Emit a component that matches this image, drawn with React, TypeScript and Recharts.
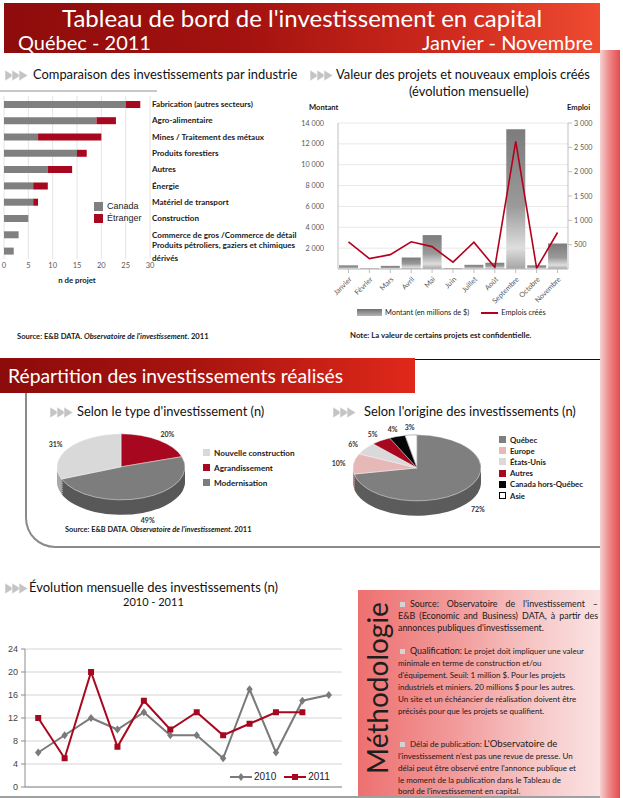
import React from 'react';
import {
  BarChart,
  Bar,
  XAxis,
  YAxis,
  CartesianGrid,
  Legend,
  ComposedChart,
  Line,
  LineChart,
  PieChart,
  Pie,
  Cell,
} from 'recharts';

const FONT = 'Lato, "Open Sans", sans-serif';

// --- Comparaison des investissements par industrie
const industries = [
  'Fabrication (autres secteurs)',
  'Agro-alimentaire',
  'Mines / Traitement des métaux',
  'Produits forestiers',
  'Autres',
  'Énergie',
  'Matériel de transport',
  'Construction',
  'Commerce de gros /Commerce de détail',
  'Produits pétroliers, gaziers et chimiques dérivés',
];
const canadaProjects = [25, 19, 7, 15, 9, 6, 6, 5, 3, 2];
const foreignProjects = [3, 4, 13, 2, 5, 3, 1, 0, 0, 0];
const projectTicks = [0, 5, 10, 15, 20, 25, 30];

// --- Valeur des projets et emplois
const months = ['Janvier', 'Février', 'Mars', 'Avril', 'Mai', 'Juin', 'Juillet', 'Août', 'Septembre', 'Octobre', 'Novembre'];
const amountMillions = [350, 50, 300, 1100, 3250, 80, 400, 600, 13400, 350, 2450];
const jobsCreated = [555, 215, 295, 560, 460, 140, 550, 35, 2620, 15, 750];
const amountTicks = [2000, 4000, 6000, 8000, 10000, 12000, 14000];
const jobTicks = [500, 1000, 1500, 2000, 2500, 3000];

// --- Répartition
const typeNames = ['Agrandissement', 'Modernisation', 'Nouvelle construction'];
const typeShares = [20, 49, 31];
const typeLegend = ['Nouvelle construction', 'Agrandissement', 'Modernisation'];

const originNames = ['Québec', 'Europe', 'États-Unis', 'Autres', 'Canada hors-Québec', 'Asie'];
const originShares = [72, 10, 6, 5, 4, 3];

// --- Évolution mensuelle
const counts2010 = [6, 9, 12, 10, 13, 9, 9, 5, 17, 6, 15, 16];
const counts2011 = [12, 5, 20, 7, 15, 10, 13, 9, 11, 13, 13];
const monthBounds = [0, 1, 2, 3, 4, 5, 6, 7, 8, 9, 10, 11, 12];
const countTicks = [0, 4, 8, 12, 16, 20, 24];

const TOP_COLORS: Record<string, string> = {
  Agrandissement: '#a8081f',
  Modernisation: '#7d7d7d',
  'Nouvelle construction': '#d9d9d9',
  Québec: '#7f7f7f',
  Europe: '#e6b9b8',
  'États-Unis': '#d9d9d9',
  Autres: '#a8081f',
  'Canada hors-Québec': '#050505',
  Asie: '#ffffff',
};
const SIDE_COLORS: Record<string, string> = {
  Agrandissement: '#6e0012',
  Modernisation: '#585858',
  'Nouvelle construction': '#a9a9a9',
  Québec: '#5c5c5c',
  Europe: '#b98c8b',
  'États-Unis': '#a8a8a8',
  Autres: '#6e0012',
  'Canada hors-Québec': '#000000',
  Asie: '#d8d8d8',
};

const fmt = (v: number) => String(v).replace(/\B(?=(\d{3})+(?!\d))/g, ' ');

const industryRows = industries.map((name, i) => ({ name, canada: canadaProjects[i], etranger: foreignProjects[i] }));
const valueRows = months.map((month, i) => ({ month, amount: amountMillions[i], jobs: jobsCreated[i] }));
const countRows = counts2010.map((v, i) => ({ pos: i + 0.5, y2010: v, y2011: counts2011[i] ?? null }));

const Arrows = ({ left, top }: { left: number; top: number }) => (
  <svg style={{ position: 'absolute', left, top }} width={24} height={11}>
    {[0, 7, 14].map((dx) => (
      <polygon key={dx} points={`${dx},0 ${dx + 9},5.5 ${dx},11`} fill="#c4c4c4" stroke="#fff" strokeWidth={0.6} />
    ))}
  </svg>
);

const Txt = ({ x, cy, size, children, style }: any) => (
  <div
    style={{
      position: 'absolute',
      left: x,
      top: cy - size * 0.6,
      fontSize: size,
      lineHeight: 1.2,
      whiteSpace: 'nowrap',
      fontFamily: FONT,
      ...style,
    }}
  >
    {children}
  </div>
);

const IndustryTick = (props: any) => {
  const { x, y, payload } = props;
  const words = String(payload.value).split(' ');
  const lines: string[] = [];
  let cur = '';
  for (const w of words) {
    const next = (cur + ' ' + w).trim();
    if (next.length > 41) {
      lines.push(cur);
      cur = w;
    } else cur = next;
  }
  lines.push(cur);
  const y0 = y - (lines.length - 1) * 5.5;
  return (
    <text x={x} y={y0} textAnchor="start" dominantBaseline="central" fontSize={8.1} fontWeight={700} fill="#1a1a1a" fontFamily={FONT}>
      {lines.map((l, i) => (
        <tspan key={i} x={x} dy={i === 0 ? 0 : 12.5}>
          {l}
        </tspan>
      ))}
    </text>
  );
};

const MonthTick = ({ x, y, payload }: any) => (
  <text x={x + 2} y={y + 3} transform={`rotate(-45 ${x + 2} ${y + 3})`} textAnchor="end" dominantBaseline="central" fontSize={7.2} fill="#595959" fontFamily={FONT}>
    {payload.value}
  </text>
);

const AmountTick = ({ x, y, payload }: any) => (
  <text x={x} y={y} textAnchor="end" dominantBaseline="central" fontSize={7.2} fill="#595959" fontFamily={FONT}>
    {fmt(payload.value)}
  </text>
);

const JobTick = ({ x, y, payload }: any) => (
  <text x={x} y={y} textAnchor="start" dominantBaseline="central" fontSize={7.2} fill="#595959" fontFamily={FONT}>
    {fmt(payload.value)}
  </text>
);

const Diamond = (p: any) =>
  p.cy == null ? null : (
    <path key={p.index} d={`M${p.cx},${p.cy - 4}L${p.cx + 3.2},${p.cy}L${p.cx},${p.cy + 4}L${p.cx - 3.2},${p.cy}Z`} fill="#7a7a7a" />
  );
const Square = (p: any) =>
  p.cy == null ? null : <rect key={p.index} x={p.cx - 3} y={p.cy - 3} width={6} height={6} fill="#a8081f" />;

const ValueLegend = ({ payload }: any) => {
  const items = [...(payload || [])].sort((a: any, b: any) => (a.type === 'line' ? 1 : 0) - (b.type === 'line' ? 1 : 0));
  return (
    <div style={{ display: 'flex', alignItems: 'center', fontFamily: FONT, fontSize: 7.4, color: '#222' }}>
      {items.map((e: any) => (
        <div key={e.value} style={{ display: 'flex', alignItems: 'center', marginRight: 12 }}>
          {e.type === 'line' ? (
            <span style={{ width: 17, height: 2, background: e.color, marginRight: 3 }} />
          ) : (
            <span style={{ width: 25, height: 7, background: 'linear-gradient(#6f6f6f, #b5b5b5)', marginRight: 3 }} />
          )}
          {e.value}
        </div>
      ))}
    </div>
  );
};

const CountLegend = ({ payload }: any) => (
  <div style={{ display: 'flex', alignItems: 'center', fontFamily: '"Liberation Sans", Arial, sans-serif', fontSize: 10, color: '#222' }}>
    {(payload || []).map((e: any) => (
      <div key={e.value} style={{ display: 'flex', alignItems: 'center', marginRight: 8 }}>
        <svg width={22} height={8} style={{ marginRight: 2 }}>
          <line x1={0} y1={4} x2={22} y2={4} stroke={e.color} strokeWidth={2} />
          {e.value === '2010' ? (
            <path d="M11,0L14,4L11,8L8,4Z" fill={e.color} />
          ) : (
            <rect x={8} y={1} width={6} height={6} fill={e.color} />
          )}
        </svg>
        {e.value}
      </div>
    ))}
  </div>
);

const SQUASH = 0.516;
const DEPTH = 29;
const LAYERS = [29, 25, 21, 17, 13, 9, 5, 2];

function Pie3D({ names, shares, left, top }: { names: string[]; shares: number[]; left: number; top: number }) {
  const rows = names.map((name, i) => ({ name, value: shares[i] }));
  const renderLabel = (p: any) => {
    const RAD = Math.PI / 180;
    const r = p.outerRadius + 15;
    const x = p.cx + r * Math.cos(-p.midAngle * RAD);
    let y = p.cy + r * Math.sin(-p.midAngle * RAD);
    if (Math.sin(p.midAngle * RAD) < -0.2) y += DEPTH;
    return (
      <text
        x={x}
        y={y}
        transform={`translate(0 ${y}) scale(1 ${1 / SQUASH}) translate(0 ${-y})`}
        textAnchor="middle"
        dominantBaseline="central"
        fontSize={7}
        fontWeight={700}
        fill="#333"
        fontFamily={FONT}
      >
        {p.value}%
      </text>
    );
  };
  return (
    <div style={{ position: 'absolute', left, top, transform: `scaleY(${SQUASH})`, transformOrigin: '0 0' }}>
      <PieChart width={200} height={200} margin={{ top: 0, right: 0, bottom: 0, left: 0 }}>
        {LAYERS.map((off) => (
          <Pie
            key={off}
            data={rows}
            dataKey="value"
            nameKey="name"
            cx={100}
            cy={85 + off}
            outerRadius={64}
            startAngle={90}
            endAngle={-270}
            stroke="none"
            isAnimationActive={false}
          >
            {rows.map((r) => (
              <Cell key={r.name} fill={SIDE_COLORS[r.name]} />
            ))}
          </Pie>
        ))}
        <Pie
          data={rows}
          dataKey="value"
          nameKey="name"
          cx={100}
          cy={85}
          outerRadius={64}
          startAngle={90}
          endAngle={-270}
          stroke="#ffffff"
          strokeWidth={0.6}
          label={renderLabel}
          labelLine={false}
          isAnimationActive={false}
        >
          {rows.map((r) => (
            <Cell key={r.name} fill={TOP_COLORS[r.name]} stroke={r.name === 'Asie' ? '#666' : '#fff'} />
          ))}
        </Pie>
      </PieChart>
    </div>
  );
}

const PieLegend = ({ names, left, top, gap, size }: any) => (
  <div style={{ position: 'absolute', left, top, fontFamily: FONT, fontSize: size, fontWeight: 700, color: '#1a1a1a' }}>
    {names.map((n: string) => (
      <div key={n} style={{ display: 'flex', alignItems: 'center', height: gap }}>
        <span
          style={{
            width: 7,
            height: 7,
            background: TOP_COLORS[n],
            border: n === 'Asie' ? '1px solid #000' : 'none',
            boxSizing: 'border-box',
            marginRight: 4,
          }}
        />
        {n}
      </div>
    ))}
  </div>
);

const Bullet = () => (
  <span style={{ display: 'inline-block', width: 5, height: 5, background: '#d4d4d4', margin: '0 5px 0 2px', verticalAlign: 'middle' }} />
);

const Ln = ({ children, justify, h = 12 }: any) => (
  <div style={{ height: h, lineHeight: `${h}px`, whiteSpace: 'nowrap', textAlign: justify ? 'justify' : 'left', textAlignLast: justify ? 'justify' : 'left' }}>
    {children}
  </div>
);

export default function App() {
  return (
    <div style={{ position: 'absolute', left: 0, top: 0, width: 623, height: 798, background: '#fff', overflow: 'hidden', fontFamily: FONT }}>
      {/* header */}
      <div
        style={{
          position: 'absolute',
          left: 4,
          top: 3,
          width: 596,
          height: 50,
          background: 'linear-gradient(90deg, #8e0c0c 0%, #a3120f 40%, #cf2a1d 75%, #ee4b31 100%)',
        }}
      />
      <Txt x={62} cy={18} size={24} style={{ color: '#fff' }}>
        Tableau de bord de l'investissement en capital
      </Txt>
      <Txt x={18} cy={42} size={20} style={{ color: '#fff' }}>
        Québec - 2011
      </Txt>
      <Txt x={422} cy={42} size={20} style={{ color: '#fff' }}>
        Janvier - Novembre
      </Txt>
      <div
        style={{
          position: 'absolute',
          left: 600,
          top: 50,
          width: 20,
          height: 748,
          background: 'linear-gradient(90deg, #f7d2d2 0%, #ee8a8a 45%, #e44c4c 100%)',
        }}
      />

      {/* industries */}
      <Arrows left={5} top={70} />
      <Txt x={33} cy={75} size={12.9} style={{ color: '#111' }}>
        Comparaison des investissements par industrie
      </Txt>
      <div style={{ position: 'absolute', left: 0, top: 90, width: 157, height: 2, background: '#c8c8c8' }} />
      <div style={{ position: 'absolute', left: 0, top: 92 }}>
        <BarChart width={305} height={195} data={industryRows} layout="vertical" margin={{ top: 4, right: 0, bottom: 0, left: 4 }} barCategoryGap="30%">
          <CartesianGrid horizontal={false} stroke="#e4e4e4" />
          <XAxis
            type="number"
            domain={[0, 30]}
            ticks={projectTicks}
            interval={0}
            axisLine={false}
            tickLine={false}
            tickSize={2}
            tickMargin={2}
            height={28}
            tick={{ fontSize: 7.5, fill: '#595959', fontFamily: FONT }}
            label={{ value: 'n de projet', position: 'insideBottom', offset: 4, style: { fontSize: 7.8, fontWeight: 700, fill: '#1a1a1a', fontFamily: FONT } }}
          />
          <YAxis
            type="category"
            dataKey="name"
            orientation="right"
            width={155}
            axisLine={false}
            tickLine={false}
            tickSize={0}
            tickMargin={2}
            interval={0}
            tick={<IndustryTick />}
          />
          <Bar dataKey="canada" name="Canada" stackId="a" fill="#808080" isAnimationActive={false} />
          <Bar dataKey="etranger" name="Étranger" stackId="a" fill="#a8081f" isAnimationActive={false} />
          <Legend
            layout="vertical"
            align="center"
            verticalAlign="middle"
            iconType="square"
            iconSize={9}
            formatter={(v: string) => <span style={{ color: '#222' }}>{v}</span>}
            wrapperStyle={{ left: 94, top: 108, width: 'auto', fontSize: 9, lineHeight: '12px', fontFamily: '"Liberation Sans", Arial, sans-serif' }}
          />
        </BarChart>
      </div>
      <Txt x={17} cy={337} size={7.6} style={{ fontWeight: 700, color: '#1a1a1a' }}>
        Source: E&B DATA. <i>Observatoire de l'investissement</i>. 2011
      </Txt>

      {/* value + jobs */}
      <Arrows left={310} top={70} />
      <Txt x={336} cy={75} size={12.9} style={{ color: '#111' }}>
        Valeur des projets et nouveaux emplois créés
      </Txt>
      <Txt x={409} cy={92} size={12.9} style={{ color: '#111' }}>
        (évolution mensuelle)
      </Txt>
      <Txt x={309} cy={108} size={7.6} style={{ fontWeight: 700, color: '#1a1a1a' }}>
        Montant
      </Txt>
      <Txt x={567} cy={108} size={7.6} style={{ fontWeight: 700, color: '#1a1a1a' }}>
        Emploi
      </Txt>
      <div style={{ position: 'absolute', left: 300, top: 100 }}>
        <ComposedChart width={305} height={230} data={valueRows} margin={{ top: 23, right: 0, bottom: 19, left: 0 }} barCategoryGap={1}>
          <defs>
            <linearGradient id="amountFill" x1="0" y1="0" x2="0" y2="1">
              <stop offset="0%" stopColor="#7c7c7c" />
              <stop offset="55%" stopColor="#9a9a9a" />
              <stop offset="85%" stopColor="#dedede" />
              <stop offset="100%" stopColor="#a5a5a5" />
            </linearGradient>
          </defs>
          <CartesianGrid vertical={false} stroke="#e8e8e8" yAxisId="left" />
          <XAxis
            dataKey="month"
            interval={0}
            height={42}
            tick={<MonthTick />}
            tickSize={4}
            tickLine={{ stroke: '#bfbfbf' }}
            axisLine={{ stroke: '#bfbfbf' }}
          />
          <YAxis
            yAxisId="left"
            domain={[0, 14000]}
            ticks={amountTicks}
            interval={0}
            width={38}
            axisLine={{ stroke: '#bfbfbf' }}
            tickLine={false}
            tickSize={6}
            tickMargin={8}
            tick={<AmountTick />}
          />
          <YAxis
            yAxisId="right"
            orientation="right"
            domain={[0, 3000]}
            ticks={jobTicks}
            interval={0}
            width={37}
            axisLine={{ stroke: '#bfbfbf' }}
            tickLine={{ stroke: '#bfbfbf' }}
            tickSize={4}
            tickMargin={2}
            tick={<JobTick />}
          />
          <Bar yAxisId="left" dataKey="amount" name="Montant (en millions de $)" fill="url(#amountFill)" isAnimationActive={false} />
          <Line
            yAxisId="right"
            type="linear"
            dataKey="jobs"
            name="Emplois créés"
            stroke="#b3001e"
            strokeWidth={1.6}
            dot={false}
            isAnimationActive={false}
          />
          <Legend
            layout="horizontal"
            align="center"
            verticalAlign="middle"
            content={<ValueLegend />}
            wrapperStyle={{ left: 57, top: 208, width: 'auto' }}
          />
        </ComposedChart>
      </div>
      <Txt x={350} cy={336} size={7.8} style={{ fontWeight: 700, color: '#1a1a1a' }}>
        Note: La valeur de certains projets est confidentielle.
      </Txt>

      {/* répartition */}
      <div
        style={{
          position: 'absolute',
          left: 0,
          top: 358,
          width: 415,
          height: 35,
          background: 'linear-gradient(90deg, #8c0b0b 0%, #a6130f 45%, #e0281a 100%)',
        }}
      />
      <div style={{ position: 'absolute', left: 415, top: 359, width: 185, height: 1, background: '#111' }} />
      <Txt x={8} cy={376} size={19.3} style={{ color: '#fff' }}>
        Répartition des investissements réalisés
      </Txt>
      <div
        style={{
          position: 'absolute',
          left: 25,
          top: 393,
          width: 575,
          height: 155,
          borderLeft: '2px solid #8a8a8a',
          borderBottom: '2px solid #8a8a8a',
          borderBottomLeftRadius: 30,
          boxSizing: 'border-box',
        }}
      />
      <Arrows left={50} top={407} />
      <Txt x={77} cy={412} size={12.9} style={{ color: '#111' }}>
        Selon le type d'investissement (n)
      </Txt>
      <Arrows left={333} top={407} />
      <Txt x={364} cy={412} size={12.9} style={{ color: '#111' }}>
        Selon l'origine des investissements (n)
      </Txt>
      <Pie3D names={typeNames} shares={typeShares} left={21} top={423} />
      <PieLegend names={typeLegend} left={203} top={445} gap={15} size={8.2} />
      <Pie3D names={originNames} shares={originShares} left={317} top={424} />
      <PieLegend names={originNames} left={499} top={434} gap={11.2} size={7.8} />
      <Txt x={65} cy={530} size={7.4} style={{ fontWeight: 700, color: '#1a1a1a' }}>
        Source: E&B DATA. <i>Observatoire de l'investissement</i>. 2011
      </Txt>

      {/* évolution mensuelle */}
      <Arrows left={5} top={583} />
      <Txt x={29} cy={588} size={13} style={{ color: '#111' }}>
        Évolution mensuelle des investissements (n)
      </Txt>
      <Txt x={123} cy={602} size={11} style={{ color: '#111' }}>
        2010 - 2011
      </Txt>
      <div style={{ position: 'absolute', left: 0, top: 640 }}>
        <LineChart width={345} height={155} data={countRows} margin={{ top: 9, right: 3, bottom: 0, left: 0 }}>
          <CartesianGrid vertical={false} stroke="#d4d4d4" />
          <XAxis
            type="number"
            dataKey="pos"
            domain={[0, 12]}
            ticks={monthBounds}
            interval={0}
            tick={false}
            tickSize={4}
            height={8}
            tickLine={{ stroke: '#8c8c8c' }}
            axisLine={{ stroke: '#8c8c8c' }}
          />
          <YAxis
            domain={[0, 24]}
            ticks={countTicks}
            interval={0}
            width={25}
            tickSize={4}
            tickMargin={3}
            tickLine={{ stroke: '#8c8c8c' }}
            axisLine={{ stroke: '#8c8c8c' }}
            tick={{ fontSize: 9, fill: '#444', fontFamily: '"Liberation Sans", Arial, sans-serif' }}
          />
          <Line dataKey="y2010" name="2010" type="linear" stroke="#7a7a7a" strokeWidth={2} dot={Diamond} isAnimationActive={false} />
          <Line dataKey="y2011" name="2011" type="linear" stroke="#a8081f" strokeWidth={2} dot={Square} isAnimationActive={false} />
          <Legend layout="horizontal" align="center" verticalAlign="middle" content={<CountLegend />} wrapperStyle={{ left: 230, top: 131, width: 'auto' }} />
        </LineChart>
      </div>

      {/* méthodologie */}
      <div
        style={{
          position: 'absolute',
          left: 358,
          top: 590,
          width: 242,
          height: 208,
          background: 'linear-gradient(90deg, #ee7070 0%, #f29a9a 40%, #f7c9c9 75%, #fbe2e2 100%)',
        }}
      />
      <div
        style={{
          position: 'absolute',
          left: 377,
          top: 688,
          transform: 'translate(-50%, -50%) rotate(-90deg)',
          fontSize: 28,
          fontFamily: FONT,
          color: '#1e1e1e',
          whiteSpace: 'nowrap',
          lineHeight: 1,
        }}
      >
        Méthodologie
      </div>
      <div style={{ position: 'absolute', left: 398, top: 598, width: 200, fontFamily: FONT, color: '#1a1a1a', fontSize: 8.9 }}>
        <Ln justify>
          <Bullet />
          Source: Observatoire de l'investissement –
        </Ln>
        <Ln justify>E&B (Economic and Business) DATA, à partir des</Ln>
        <Ln>annonces publiques d'investissement.</Ln>
      </div>
      <div style={{ position: 'absolute', left: 398, top: 645, width: 200, fontFamily: FONT, color: '#1a1a1a', fontSize: 8 }}>
        <Ln>
          <Bullet />
          <span style={{ fontSize: 8.9 }}>Qualification:</span> Le projet doit impliquer une valeur
        </Ln>
        <Ln>minimale en terme de construction et/ou</Ln>
        <Ln>d'équipement. Seuil: 1 million $. Pour les projets</Ln>
        <Ln>industriels et miniers. 20 millions $ pour les autres.</Ln>
        <Ln>Un site et un échéancier de réalisation doivent être</Ln>
        <Ln>précisés pour que les projets se qualifient.</Ln>
      </div>
      <div style={{ position: 'absolute', left: 398, top: 738, width: 200, fontFamily: FONT, color: '#1a1a1a', fontSize: 8 }}>
        <Ln>
          <Bullet />
          Délai de publication: <span style={{ fontSize: 9.6 }}>L'Observatoire de</span>
        </Ln>
        <Ln>l'investissement n'est pas une revue de presse. Un</Ln>
        <Ln>délai peut être observé entre l'annonce publique et</Ln>
        <Ln>le moment de la publication dans le Tableau de</Ln>
        <Ln h={11}>bord de l'investissement en capital.</Ln>
      </div>
      <div style={{ position: 'absolute', left: 0, top: 796, width: 600, height: 2, background: '#a0a0a0' }} />
    </div>
  );
}
